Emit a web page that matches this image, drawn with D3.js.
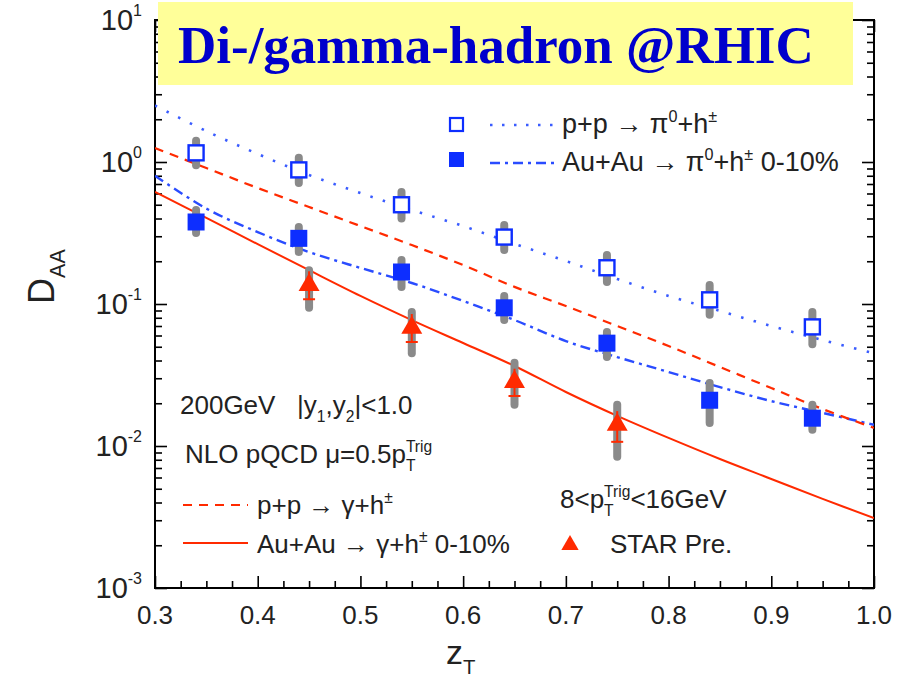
<!DOCTYPE html>
<html>
<head>
<meta charset="utf-8">
<script src="https://cdn.jsdelivr.net/npm/d3@7"></script>
<style>
  body { margin: 0; background: #fff; }
  svg { display: block; font-family: 'Liberation Sans', Arial, sans-serif; }
  text { white-space: pre; }
</style>
</head>
<body>
<script>
// z_T grid for the NLO pQCD curves
const zGrid = [0.30, 0.35, 0.40, 0.45, 0.50, 0.55, 0.60, 0.65, 0.70, 0.75, 0.80, 0.85, 0.90, 0.95, 1.00];
const ppPi0Curve   = [2.50, 1.65, 1.14, 0.81, 0.605, 0.459, 0.354, 0.265, 0.201, 0.150, 0.114, 0.0893, 0.070, 0.0557, 0.045];
const auauPi0Curve = [0.80, 0.47, 0.321, 0.232, 0.1795, 0.1406, 0.105, 0.0771, 0.0548, 0.0423, 0.0332, 0.026, 0.0207, 0.0171, 0.0141];
const ppGamCurve   = [1.255, 0.907, 0.656, 0.482, 0.354, 0.26, 0.188, 0.132, 0.0968, 0.070, 0.0506, 0.036, 0.0256, 0.0182, 0.0134];
const auauGamCurve = [0.615, 0.404, 0.264, 0.173, 0.114, 0.077, 0.0531, 0.0366, 0.024, 0.0163, 0.0114, 0.0081, 0.00586, 0.00424, 0.00311];

// pi0-h data points
const zPi0 = [0.34, 0.44, 0.54, 0.64, 0.74, 0.84, 0.94];
const ppPi0 = [1.16, 0.88, 0.50, 0.296, 0.18, 0.107, 0.069];
const ppPi0Hi = [1.41, 1.07, 0.615, 0.36, 0.221, 0.136, 0.088];
const ppPi0Lo = [0.95, 0.71, 0.40, 0.24, 0.143, 0.084, 0.052];
const auauPi0 = [0.378, 0.29, 0.168, 0.094, 0.053, 0.021, 0.0157];
const auauPi0Hi = [0.459, 0.348, 0.204, 0.114, 0.0635, 0.0278, 0.0195];
const auauPi0Lo = [0.316, 0.232, 0.132, 0.077, 0.0424, 0.0145, 0.013];

// STAR preliminary gamma-h
const zStar = [0.45, 0.55, 0.65, 0.75];
const star = [0.136, 0.068, 0.0283, 0.0141];
const starSysHi = [0.173, 0.088, 0.0385, 0.0195];
const starSysLo = [0.094, 0.045, 0.0195, 0.0084];
const starStatHi = [0.17, 0.085, 0.035, 0.0176];
const starStatLo = [0.108, 0.054, 0.0225, 0.0107];

const xTicks = [0.3, 0.4, 0.5, 0.6, 0.7, 0.8, 0.9, 1.0];
const yExps = [-3, -2, -1, 0, 1];

const width = 898, height = 687;
const blue = '#0d2eff', red = '#ff2a00', gray = '#8a8a8a';

const svg = d3.select('body').append('svg')
  .attr('width', width)
  .attr('height', height);

const x = d3.scaleLinear().domain([0.3, 1.0]).range([155, 874]);
const y = d3.scaleLog().domain([1e-3, 10]).range([588, 20]);

svg.append('clipPath').attr('id', 'plot')
  .append('rect')
  .attr('x', x(0.3)).attr('y', y(10))
  .attr('width', x(1.0) - x(0.3)).attr('height', y(1e-3) - y(10));

// minor ticks
const xMinor = d3.range(0.3, 1.0001, 0.025).filter((d, i) => i % 4 !== 0);
const yMinor = [];
yExps.slice(0, -1).forEach(e => { for (let m = 2; m <= 9; m++) yMinor.push(m * Math.pow(10, e)); });

function axis(gen, tx, ty, size, values) {
  svg.append('g')
    .attr('transform', `translate(${tx},${ty})`)
    .call(gen.tickValues(values).tickSize(-size).tickFormat(''))
    .call(g => g.select('.domain').attr('d', null))
    .call(g => g.selectAll('.tick line').attr('stroke-width', 1.6));
}
axis(d3.axisBottom(x), 0, 588, 12, xTicks);
axis(d3.axisBottom(x), 0, 588, 7, xMinor);
axis(d3.axisTop(x), 0, 20, 12, xTicks);
axis(d3.axisTop(x), 0, 20, 7, xMinor);
axis(d3.axisLeft(y), 155, 0, 12, yExps.map(e => Math.pow(10, e)));
axis(d3.axisLeft(y), 155, 0, 7, yMinor);
axis(d3.axisRight(y), 874, 0, 12, yExps.map(e => Math.pow(10, e)));
axis(d3.axisRight(y), 874, 0, 7, yMinor);

svg.append('rect')
  .attr('x', x(0.3)).attr('y', y(10))
  .attr('width', x(1.0) - x(0.3)).attr('height', y(1e-3) - y(10))
  .attr('fill', 'none').attr('stroke', '#000').attr('stroke-width', 2);

// tick labels
svg.append('g').selectAll('text')
  .data(xTicks)
  .join('text')
  .attr('x', d => x(d))
  .attr('y', 624)
  .attr('text-anchor', 'middle')
  .style('font-size', '26px')
  .attr('fill', '#222')
  .text(d => d.toFixed(1));

const yLab = svg.append('g').selectAll('text')
  .data(yExps)
  .join('text')
  .attr('x', 142)
  .attr('y', d => y(Math.pow(10, d)) + 10)
  .attr('text-anchor', 'end')
  .style('font-size', '29px')
  .attr('fill', '#222');
yLab.append('tspan').text('10');
yLab.append('tspan').attr('dy', -14).style('font-size', '16px').text(d => d);

// rich text helper: parts = [text, mode]; mode 'sub', 'sup' or 'stack' (sup over previous sub)
function rich(parent, tx, ty, parts, size, attrs) {
  const t = parent.append('text').attr('x', tx).attr('y', ty)
    .style('font-size', size + 'px').attr('fill', '#222');
  Object.entries(attrs || {}).forEach(([k, v]) => t.attr(k, v));
  let shift = 0, lastLen = 0;
  parts.forEach(([str, mode]) => {
    const target = mode === 'sup' || mode === 'stack' ? -0.42 * size : mode === 'sub' ? 0.3 * size : 0;
    const ts = t.append('tspan').attr('dy', target - shift).text(str);
    if (mode) ts.style('font-size', (0.6 * size) + 'px');
    if (mode === 'stack') ts.attr('dx', -lastLen);
    lastLen = ts.node().getComputedTextLength();
    shift = target;
  });
  return t;
}

// curves
const line = d3.line()
  .x((d, i) => x(zGrid[i]))
  .y(d => y(d))
  .curve(d3.curveCatmullRom);

const curves = svg.append('g').attr('clip-path', 'url(#plot)').attr('fill', 'none');
curves.append('path').datum(ppPi0Curve).attr('d', line)
  .attr('stroke', '#3a5cff').attr('stroke-width', 2.6).attr('stroke-dasharray', '2.5,10.5');
curves.append('path').datum(auauPi0Curve).attr('d', line)
  .attr('stroke', '#2a4cff').attr('stroke-width', 2.4).attr('stroke-dasharray', '10,5,3,5');
curves.append('path').datum(ppGamCurve).attr('d', line)
  .attr('stroke', red).attr('stroke-width', 2.2).attr('stroke-dasharray', '9,7');
curves.append('path').datum(auauGamCurve).attr('d', line)
  .attr('stroke', red).attr('stroke-width', 2);

// systematic error bars
const errs = svg.append('g').attr('stroke', gray).attr('stroke-width', 8).attr('stroke-linecap', 'round');
function sysBars(xs, hi, lo) {
  errs.append('g').selectAll('line')
    .data(xs)
    .join('line')
    .attr('x1', d => x(d)).attr('x2', d => x(d))
    .attr('y1', (d, i) => y(hi[i])).attr('y2', (d, i) => y(lo[i]));
}
sysBars(zPi0, ppPi0Hi, ppPi0Lo);
sysBars(zPi0, auauPi0Hi, auauPi0Lo);
sysBars(zStar, starSysHi, starSysLo);

// markers
const sq = 17;
svg.append('g').selectAll('rect')
  .data(ppPi0)
  .join('rect')
  .attr('x', (d, i) => x(zPi0[i]) - sq / 2 + 1)
  .attr('y', d => y(d) - sq / 2 + 1)
  .attr('width', sq - 2).attr('height', sq - 2)
  .attr('fill', '#fff').attr('stroke', blue).attr('stroke-width', 2.4);

svg.append('g').selectAll('rect')
  .data(auauPi0)
  .join('rect')
  .attr('x', (d, i) => x(zPi0[i]) - sq / 2)
  .attr('y', d => y(d) - sq / 2)
  .attr('width', sq).attr('height', sq)
  .attr('fill', blue);

const tri = d3.symbol().type(d3.symbolTriangle).size(190);
const stat = svg.append('g').attr('stroke', red).attr('stroke-width', 2);
stat.selectAll('line.v')
  .data(star)
  .join('line')
  .attr('x1', (d, i) => x(zStar[i])).attr('x2', (d, i) => x(zStar[i]))
  .attr('y1', (d, i) => y(starStatHi[i])).attr('y2', (d, i) => y(starStatLo[i]));
stat.selectAll('line.c')
  .data(star)
  .join('line')
  .attr('x1', (d, i) => x(zStar[i]) - 6).attr('x2', (d, i) => x(zStar[i]) + 6)
  .attr('y1', (d, i) => y(starStatLo[i])).attr('y2', (d, i) => y(starStatLo[i]));

svg.append('g').selectAll('path')
  .data(star)
  .join('path')
  .attr('d', tri)
  .attr('transform', (d, i) => `translate(${x(zStar[i])},${y(d)})`)
  .attr('fill', red);

// top-right legend
const leg = svg.append('g');
leg.append('rect').attr('x', 450).attr('y', 118).attr('width', 13).attr('height', 13)
  .attr('fill', '#fff').attr('stroke', blue).attr('stroke-width', 2.2);
leg.append('line').attr('x1', 490).attr('x2', 555).attr('y1', 125).attr('y2', 125)
  .attr('stroke', '#3a5cff').attr('stroke-width', 2.4).attr('stroke-dasharray', '2.5,9.5');
rich(leg, 562, 133, [['p+p '], ['\u2192 '], ['\u03c0'], ['0', 'sup'], ['+h'], ['\u00b1', 'sup']], 27);

leg.append('rect').attr('x', 449).attr('y', 152).attr('width', 15).attr('height', 15).attr('fill', blue);
leg.append('line').attr('x1', 490).attr('x2', 555).attr('y1', 163).attr('y2', 163)
  .attr('stroke', '#2a4cff').attr('stroke-width', 2.4).attr('stroke-dasharray', '10,5,3,5');
rich(leg, 562, 171, [['Au+Au '], ['\u2192 '], ['\u03c0'], ['0', 'sup'], ['+h'], ['\u00b1', 'sup'], [' 0-10%']], 27);

// bottom-left annotations
rich(svg, 180, 414, [['200GeV   |y'], ['1', 'sub'], [','], ['y'], ['2', 'sub'], ['|<1.0']], 26);
rich(svg, 185, 463, [['NLO pQCD \u03bc=0.5p'], ['T', 'sub'], ['Trig', 'stack']], 26);

svg.append('line').attr('x1', 183).attr('x2', 248).attr('y1', 505).attr('y2', 505)
  .attr('stroke', red).attr('stroke-width', 2.2).attr('stroke-dasharray', '9,7');
rich(svg, 257, 514, [['p+p '], ['\u2192 '], ['\u03b3+h'], ['\u00b1', 'sup']], 26);
svg.append('line').attr('x1', 183).attr('x2', 248).attr('y1', 543).attr('y2', 543)
  .attr('stroke', red).attr('stroke-width', 2);
rich(svg, 257, 553, [['Au+Au '], ['\u2192 '], ['\u03b3+h'], ['\u00b1', 'sup'], [' 0-10%']], 26);

rich(svg, 560, 508, [['8<p'], ['T', 'sub'], ['Trig', 'stack'], ['<16GeV']], 26);
svg.append('path').attr('d', d3.symbol().type(d3.symbolTriangle).size(130))
  .attr('transform', 'translate(570,545)').attr('fill', red);
rich(svg, 610, 553, [['STAR Pre.']], 26);

// axis titles
rich(svg, 446, 664, [['z'], ['T', 'sub']], 34);
rich(svg, 0, 0, [['D'], ['AA', 'sub']], 36, { transform: 'translate(54,304) rotate(-90)' });

// title box
svg.append('rect').attr('x', 158).attr('y', 2).attr('width', 695).attr('height', 83).attr('fill', '#ffff99');
svg.append('text')
  .attr('x', 178).attr('y', 63)
  .style('font-family', "'Liberation Serif', 'Times New Roman', serif")
  .style('font-weight', 'bold')
  .style('font-size', '53px')
  .attr('fill', '#0000cc')
  .text('Di-/gamma-hadron @RHIC');
</script>
</body>
</html>
